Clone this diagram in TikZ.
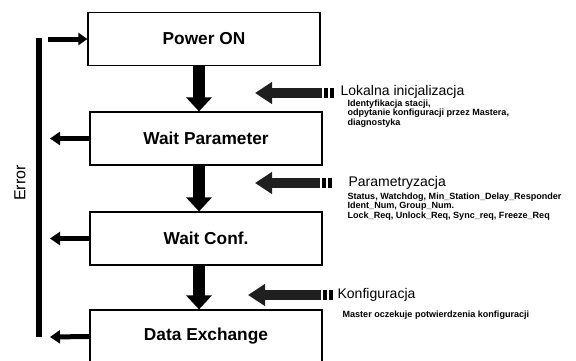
\documentclass[tikz,border=0pt]{standalone}
\usepackage{fontspec}
\setmainfont{Liberation Sans}
\usetikzlibrary{arrows.meta}

\begin{document}
\begin{tikzpicture}[x=1pt,y=-1pt,line width=1.2pt,font=\bfseries]
	\tikzstyle{every node}=[inner sep=0pt,text=black]
	\tikzstyle{state}=[rectangle,draw=black,fill=white,line width=1.2pt,minimum width=232pt,minimum height=53pt,font=\fontsize{17.3}{19}\selectfont\bfseries] % state = DP slave state
	\tikzstyle{flow}=[line width=12pt,-{Triangle[length=14pt,width=25pt]}] % flow = next state
	\tikzstyle{err}=[line width=5pt,-{Triangle[length=10pt,width=13pt]}] % err = back on error
	\tikzstyle{info}=[line width=10pt,black!88,-{Triangle[length=17pt,width=21pt]}] % info = master telegram
	\tikzstyle{head}=[anchor=west,font=\fontsize{14}{16}\selectfont\mdseries]
	\tikzstyle{note}=[anchor=north west,align=left,font=\fontsize{9.05}{9.8}\selectfont\bfseries]
	\useasboundingbox (0,0) rectangle (576,360);
	\clip (0,0) rectangle (576,360);

	% states
	\node[state] (pon)   at (204,39)    {Power ON};
	\node[state] (wpar)  at (206,138.5) {Wait Parameter};
	\node[state] (wconf) at (206,238.5) {Wait Conf.};
	\node[state] (dex)   at (206,336.5) {Data Exchange};

	\draw[flow] ([xshift=-5pt]pon.south)   -- ([xshift=-7pt]wpar.north);
	\draw[flow] ([xshift=-7pt]wpar.south)  -- ([xshift=-7pt]wconf.north);
	\draw[flow] ([xshift=-7pt]wconf.south) -- ([xshift=-7pt]dex.north);

	% error line
	\coordinate (etop) at (39,38);
	\coordinate (ebot) at (39,337);
	\draw[line width=6pt] (etop) -- (ebot);
	\node[rotate=90,font=\fontsize{16}{18}\selectfont\mdseries] (errl) at (20,183) {Error};
	\coordinate (pin) at (48,39);
	\draw[err,-{Triangle[length=9pt,width=12pt]}] (pin) -- (pon.west);
	\coordinate (e1) at (50,138.5);
	\coordinate (e2) at (50,238.5);
	\coordinate (e3) at (50,337);
	\draw[err] (wpar.west)  -- (e1);
	\draw[err] (wconf.west) -- (e2);
	\draw[err] (dex.west)   -- (e3);

	% master side
	\coordinate (t1) at (322,93);  \coordinate (h1) at (255,93);
	\coordinate (t2) at (320,183); \coordinate (h2) at (255,183);
	\coordinate (t3) at (321,295); \coordinate (h3) at (248,295);
	\draw[info] (t1) -- (h1);
	\draw[info] (t2) -- (h2);
	\draw[info] (t3) -- (h3);
	\foreach \y/\a in {93/324,183/322,295/323}
	{
		\fill (\a,\y-5) rectangle ++(3.5,10);
		\fill (\a+6,\y-5) rectangle ++(3.5,10);
	}

	\node[head] (lok)  at (340,92)  {Lokalna inicjalizacja};
	\node[note] (lokn) at (347,99)  {Identyfikacja stacji,\\odpytanie konfiguracji przez Mastera,\\diagnostyka};
	\node[head] (par)  at (348,183) {Parametryzacja};
	\node[note] (parn) at (347,192) {Status, Watchdog, Min\_Station\_Delay\_Responder\\Ident\_Num, Group\_Num.\\Lock\_Req, Unlock\_Req, Sync\_req, Freeze\_Req};
	\node[head] (kon)  at (337,295) {Konfiguracja};
	\node[note] (konn) at (342,310) {Master oczekuje potwierdzenia konfiguracji};
\end{tikzpicture}
\end{document}
